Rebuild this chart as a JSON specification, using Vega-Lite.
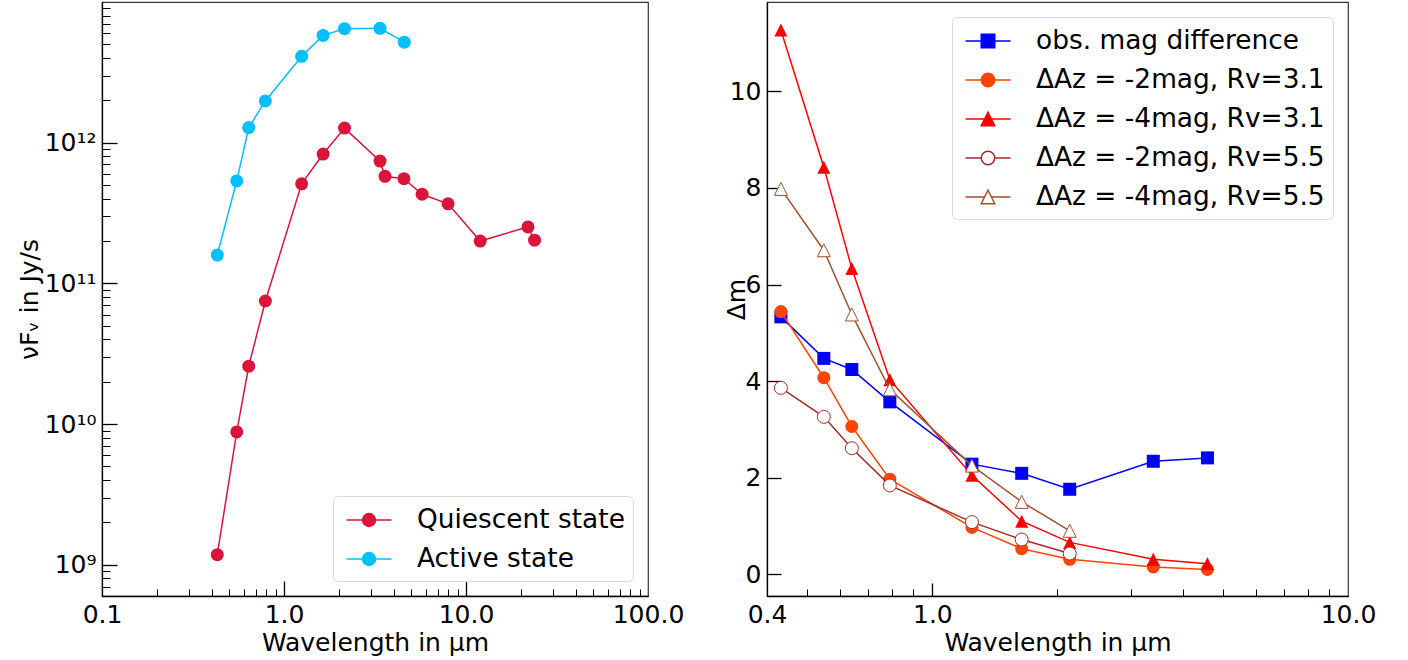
{
  "$schema": "https://vega.github.io/schema/vega-lite/v6.json",
  "padding": {"left": 16, "top": 1, "right": 5, "bottom": 5},
  "spacing": 119,
  "bounds": "flush",
  "resolve": {"scale": {"fill": "independent", "stroke": "independent", "shape": "independent"}, "legend": {"fill": "independent", "stroke": "independent", "shape": "independent"}},
  "config": {
    "font": "DejaVu Sans",
    "view": {"stroke": "#333", "strokeWidth": 1.2},
    "axis": {"grid": false, "labelFontSize": 25, "titleFontSize": 25, "labelColor": "#000", "titleColor": "#000", "titleFontWeight": "normal", "tickColor": "#000", "domainColor": "#000", "domainWidth": 1.3, "labelFont": "DejaVu Sans", "titleFont": "DejaVu Sans", "labelFlush": false, "labelOverlap": false},
    "legend": {"labelFontSize": 26.4, "labelFont": "DejaVu Sans", "labelColor": "#000", "strokeColor": "#d9d9d9", "fillColor": "#ffffff", "cornerRadius": 5, "padding": 8, "rowPadding": 9, "symbolSize": 900, "symbolStrokeWidth": 1.5, "symbolOffset": 12, "labelOffset": 32, "labelLimit": 600, "offset": 15}
  },
  "datasets": {
    "sed": [
      {"lam": 0.43, "flux": 1.18e9, "state": "Quiescent state"},
      {"lam": 0.55, "flux": 8.8e9, "state": "Quiescent state"},
      {"lam": 0.64, "flux": 2.58e10, "state": "Quiescent state"},
      {"lam": 0.79, "flux": 7.5e10, "state": "Quiescent state"},
      {"lam": 1.25, "flux": 5.1e11, "state": "Quiescent state"},
      {"lam": 1.64, "flux": 8.3e11, "state": "Quiescent state"},
      {"lam": 2.15, "flux": 1.27e12, "state": "Quiescent state"},
      {"lam": 3.37, "flux": 7.4e11, "state": "Quiescent state"},
      {"lam": 3.59, "flux": 5.77e11, "state": "Quiescent state"},
      {"lam": 4.56, "flux": 5.55e11, "state": "Quiescent state"},
      {"lam": 5.74, "flux": 4.3e11, "state": "Quiescent state"},
      {"lam": 7.97, "flux": 3.68e11, "state": "Quiescent state"},
      {"lam": 11.97, "flux": 2.0e11, "state": "Quiescent state"},
      {"lam": 21.9, "flux": 2.52e11, "state": "Quiescent state"},
      {"lam": 23.8, "flux": 2.03e11, "state": "Quiescent state"},
      {"lam": 0.43, "flux": 1.59e11, "state": "Active state"},
      {"lam": 0.55, "flux": 5.35e11, "state": "Active state"},
      {"lam": 0.64, "flux": 1.28e12, "state": "Active state"},
      {"lam": 0.79, "flux": 1.98e12, "state": "Active state"},
      {"lam": 1.25, "flux": 4.11e12, "state": "Active state"},
      {"lam": 1.64, "flux": 5.79e12, "state": "Active state"},
      {"lam": 2.15, "flux": 6.46e12, "state": "Active state"},
      {"lam": 3.37, "flux": 6.5e12, "state": "Active state"},
      {"lam": 4.58, "flux": 5.18e12, "state": "Active state"}
    ],
    "dm": [
      {"lam": 0.432, "dm": 5.33, "series": "obs. mag difference"},
      {"lam": 0.548, "dm": 4.47, "series": "obs. mag difference"},
      {"lam": 0.64, "dm": 4.24, "series": "obs. mag difference"},
      {"lam": 0.79, "dm": 3.57, "series": "obs. mag difference"},
      {"lam": 1.245, "dm": 2.28, "series": "obs. mag difference"},
      {"lam": 1.64, "dm": 2.09, "series": "obs. mag difference"},
      {"lam": 2.14, "dm": 1.76, "series": "obs. mag difference"},
      {"lam": 3.4, "dm": 2.34, "series": "obs. mag difference"},
      {"lam": 4.59, "dm": 2.41, "series": "obs. mag difference"},
      {"lam": 0.432, "dm": 5.44, "series": "ΔAz = -2mag, Rv=3.1"},
      {"lam": 0.548, "dm": 4.07, "series": "ΔAz = -2mag, Rv=3.1"},
      {"lam": 0.64, "dm": 3.06, "series": "ΔAz = -2mag, Rv=3.1"},
      {"lam": 0.79, "dm": 1.97, "series": "ΔAz = -2mag, Rv=3.1"},
      {"lam": 1.245, "dm": 0.97, "series": "ΔAz = -2mag, Rv=3.1"},
      {"lam": 1.64, "dm": 0.53, "series": "ΔAz = -2mag, Rv=3.1"},
      {"lam": 2.14, "dm": 0.31, "series": "ΔAz = -2mag, Rv=3.1"},
      {"lam": 3.4, "dm": 0.15, "series": "ΔAz = -2mag, Rv=3.1"},
      {"lam": 4.59, "dm": 0.1, "series": "ΔAz = -2mag, Rv=3.1"},
      {"lam": 0.432, "dm": 11.27, "series": "ΔAz = -4mag, Rv=3.1"},
      {"lam": 0.548, "dm": 8.43, "series": "ΔAz = -4mag, Rv=3.1"},
      {"lam": 0.64, "dm": 6.33, "series": "ΔAz = -4mag, Rv=3.1"},
      {"lam": 0.79, "dm": 4.03, "series": "ΔAz = -4mag, Rv=3.1"},
      {"lam": 1.245, "dm": 2.05, "series": "ΔAz = -4mag, Rv=3.1"},
      {"lam": 1.64, "dm": 1.1, "series": "ΔAz = -4mag, Rv=3.1"},
      {"lam": 2.14, "dm": 0.66, "series": "ΔAz = -4mag, Rv=3.1"},
      {"lam": 3.4, "dm": 0.31, "series": "ΔAz = -4mag, Rv=3.1"},
      {"lam": 4.59, "dm": 0.22, "series": "ΔAz = -4mag, Rv=3.1"},
      {"lam": 0.432, "dm": 3.86, "series": "ΔAz = -2mag, Rv=5.5"},
      {"lam": 0.548, "dm": 3.26, "series": "ΔAz = -2mag, Rv=5.5"},
      {"lam": 0.64, "dm": 2.61, "series": "ΔAz = -2mag, Rv=5.5"},
      {"lam": 0.79, "dm": 1.84, "series": "ΔAz = -2mag, Rv=5.5"},
      {"lam": 1.245, "dm": 1.08, "series": "ΔAz = -2mag, Rv=5.5"},
      {"lam": 1.64, "dm": 0.72, "series": "ΔAz = -2mag, Rv=5.5"},
      {"lam": 2.14, "dm": 0.43, "series": "ΔAz = -2mag, Rv=5.5"},
      {"lam": 0.432, "dm": 7.98, "series": "ΔAz = -4mag, Rv=5.5"},
      {"lam": 0.548, "dm": 6.71, "series": "ΔAz = -4mag, Rv=5.5"},
      {"lam": 0.64, "dm": 5.38, "series": "ΔAz = -4mag, Rv=5.5"},
      {"lam": 0.79, "dm": 3.83, "series": "ΔAz = -4mag, Rv=5.5"},
      {"lam": 1.245, "dm": 2.25, "series": "ΔAz = -4mag, Rv=5.5"},
      {"lam": 1.64, "dm": 1.5, "series": "ΔAz = -4mag, Rv=5.5"},
      {"lam": 2.14, "dm": 0.9, "series": "ΔAz = -4mag, Rv=5.5"}
    ]
  },
  "hconcat": [
    {
      "width": 546,
      "height": 594,
      "data": {"name": "sed"},
      "layer": [
        {
          "transform": [{"filter": "datum.state === 'Quiescent state'"}],
          "mark": {"type": "line", "color": "#dc143c", "strokeWidth": 1.5, "point": {"filled": true, "size": 169, "color": "#dc143c", "opacity": 1}},
          "encoding": {
            "x": {"field": "lam", "type": "quantitative", "scale": {"type": "log", "domain": [0.1, 100], "nice": false},
                  "axis": {"orient": "bottom", "values": [0.1, 1, 10, 100], "format": ".1f", "ticks": false, "domain": true, "labelPadding": 6, "title": "Wavelength in μm", "titlePadding": 3}},
            "y": {"field": "flux", "type": "quantitative", "scale": {"type": "log", "domain": [6e8, 1e13], "nice": false},
                  "axis": {"orient": "left", "values": [1e9, 1e10, 1e11, 1e12], "labelExpr": "datum.value < 5e9 ? '10⁹' : datum.value < 5e10 ? '10¹⁰' : datum.value < 5e11 ? '10¹¹' : '10¹²'", "ticks": false, "domain": true, "labelPadding": 6, "title": "νFᵥ in Jy/s", "titlePadding": 2}}
          }
        },
        {
          "transform": [{"filter": "datum.state === 'Active state'"}],
          "mark": {"type": "line", "color": "#00bfff", "strokeWidth": 1.5, "point": {"filled": true, "size": 169, "color": "#00bfff", "opacity": 1}},
          "encoding": {
            "x": {"field": "lam", "type": "quantitative", "scale": {"type": "log", "domain": [0.1, 100], "nice": false},
                  "axis": {"orient": "bottom", "values": [1, 10], "labels": false, "domain": false, "ticks": true, "tickSize": -15, "tickWidth": 1.3, "title": null}},
            "y": {"field": "flux", "type": "quantitative", "scale": {"type": "log", "domain": [6e8, 1e13], "nice": false},
                  "axis": {"orient": "left", "values": [1e9, 1e10, 1e11, 1e12], "labels": false, "domain": false, "ticks": true, "tickSize": -15, "tickWidth": 1.3, "title": null}}
          }
        },
        {
          "transform": [{"filter": "false"}],
          "mark": {"type": "point", "size": 900, "opacity": 1, "strokeWidth": 1.5},
          "encoding": {
            "x": {"field": "lam", "type": "quantitative", "scale": {"type": "log", "domain": [0.1, 100], "nice": false},
                  "axis": {"orient": "bottom", "values": [0.2, 0.3, 0.4, 0.5, 0.6, 0.7, 0.8, 0.9, 2, 3, 4, 5, 6, 7, 8, 9, 20, 30, 40, 50, 60, 70, 80, 90], "labels": false, "domain": false, "ticks": true, "tickSize": -7, "tickWidth": 1, "title": null}},
            "y": {"field": "flux", "type": "quantitative", "scale": {"type": "log", "domain": [6e8, 1e13], "nice": false},
                  "axis": {"orient": "left", "values": [6e8, 7e8, 8e8, 9e8, 2e9, 3e9, 4e9, 5e9, 6e9, 7e9, 8e9, 9e9, 2e10, 3e10, 4e10, 5e10, 6e10, 7e10, 8e10, 9e10, 2e11, 3e11, 4e11, 5e11, 6e11, 7e11, 8e11, 9e11, 2e12, 3e12, 4e12, 5e12, 6e12, 7e12, 8e12, 9e12], "labels": false, "domain": false, "ticks": true, "tickSize": -8, "tickWidth": 1, "title": null}},
            "fill": {"field": "state", "type": "nominal", "scale": {"domain": ["Quiescent state", "Active state"], "range": ["#dc143c", "#00bfff"]}, "legend": {"title": null, "orient": "bottom-right"}},
            "stroke": {"field": "state", "type": "nominal", "scale": {"domain": ["Quiescent state", "Active state"], "range": ["#dc143c", "#00bfff"]}, "legend": {"title": null, "orient": "bottom-right"}},
            "shape": {"field": "state", "type": "nominal", "scale": {"domain": ["Quiescent state", "Active state"], "range": ["M-1.5,0H-0.43M0.43,0H1.5M0.43,0A0.43,0.43,0,1,1,-0.43,0A0.43,0.43,0,1,1,0.43,0Z", "M-1.5,0H-0.43M0.43,0H1.5M0.43,0A0.43,0.43,0,1,1,-0.43,0A0.43,0.43,0,1,1,0.43,0Z"]}, "legend": {"title": null, "orient": "bottom-right"}}
          }
        }
      ],
      "resolve": {"axis": {"x": "independent", "y": "independent"}}
    },
    {
      "width": 581,
      "height": 594,
      "data": {"name": "dm"},
      "layer": [
        {
          "transform": [{"filter": "datum.series === 'obs. mag difference'"}],
          "mark": {"type": "line", "color": "#0000ff", "strokeWidth": 1.5, "point": {"filled": true, "shape": "square", "size": 169, "color": "#0000ff", "opacity": 1}},
          "encoding": {
            "x": {"field": "lam", "type": "quantitative", "scale": {"type": "log", "domain": [0.4, 10], "nice": false},
                  "axis": {"orient": "bottom", "values": [0.4, 1, 10], "format": ".1f", "ticks": false, "domain": true, "labelPadding": 6, "title": "Wavelength in μm", "titlePadding": 3}},
            "y": {"field": "dm", "type": "quantitative", "scale": {"domain": [-0.45, 11.85], "nice": false, "zero": false},
                  "axis": {"orient": "left", "values": [0, 2, 4, 6, 8, 10], "format": "d", "ticks": false, "domain": true, "labelPadding": 6, "title": "Δm", "titlePadding": -20}}
          }
        },
        {
          "transform": [{"filter": "datum.series === 'ΔAz = -2mag, Rv=3.1'"}],
          "mark": {"type": "line", "color": "#ff4500", "strokeWidth": 1.5, "point": {"filled": true, "shape": "circle", "size": 169, "color": "#ff4500", "opacity": 1}},
          "encoding": {
            "x": {"field": "lam", "type": "quantitative", "scale": {"type": "log", "domain": [0.4, 10], "nice": false},
                  "axis": {"orient": "bottom", "values": [1], "labels": false, "domain": false, "ticks": true, "tickSize": -13, "tickWidth": 1.3, "title": null}},
            "y": {"field": "dm", "type": "quantitative", "scale": {"domain": [-0.45, 11.85], "nice": false, "zero": false},
                  "axis": {"orient": "left", "values": [0, 2, 4, 6, 8, 10], "labels": false, "domain": false, "ticks": true, "tickSize": -14, "tickWidth": 1.3, "title": null}}
          }
        },
        {
          "transform": [{"filter": "datum.series === 'ΔAz = -4mag, Rv=3.1'"}],
          "mark": {"type": "line", "color": "#ff0000", "strokeWidth": 1.5, "point": {"filled": true, "shape": "M0,-1L1,1L-1,1Z", "size": 169, "color": "#ff0000", "opacity": 1}},
          "encoding": {
            "x": {"field": "lam", "type": "quantitative", "scale": {"type": "log", "domain": [0.4, 10], "nice": false},
                  "axis": {"orient": "bottom", "values": [0.5, 0.6, 0.7, 0.8, 0.9, 2, 3, 4, 5, 6, 7, 8, 9], "labels": false, "domain": false, "ticks": true, "tickSize": -7, "tickWidth": 1, "title": null}},
            "y": {"field": "dm", "type": "quantitative", "scale": {"domain": [-0.45, 11.85], "nice": false, "zero": false}, "axis": null}
          }
        },
        {
          "transform": [{"filter": "datum.series === 'ΔAz = -2mag, Rv=5.5'"}],
          "mark": {"type": "line", "color": "#a52a2a", "strokeWidth": 1.5, "point": {"filled": false, "shape": "circle", "size": 169, "fill": "#ffffff", "stroke": "#a52a2a", "strokeWidth": 1, "opacity": 1}},
          "encoding": {
            "x": {"field": "lam", "type": "quantitative", "scale": {"type": "log", "domain": [0.4, 10], "nice": false}, "axis": null},
            "y": {"field": "dm", "type": "quantitative", "scale": {"domain": [-0.45, 11.85], "nice": false, "zero": false}, "axis": null}
          }
        },
        {
          "transform": [{"filter": "datum.series === 'ΔAz = -4mag, Rv=5.5'"}],
          "mark": {"type": "line", "color": "#a0522d", "strokeWidth": 1.5, "point": {"filled": false, "shape": "M0,-1L1,1L-1,1Z", "size": 169, "fill": "#ffffff", "stroke": "#a0522d", "strokeWidth": 1, "opacity": 1}},
          "encoding": {
            "x": {"field": "lam", "type": "quantitative", "scale": {"type": "log", "domain": [0.4, 10], "nice": false}, "axis": null},
            "y": {"field": "dm", "type": "quantitative", "scale": {"domain": [-0.45, 11.85], "nice": false, "zero": false}, "axis": null}
          }
        },
        {
          "transform": [{"filter": "false"}],
          "mark": {"type": "point", "size": 900, "opacity": 1, "strokeWidth": 1.5},
          "encoding": {
            "x": {"field": "lam", "type": "quantitative", "scale": {"type": "log", "domain": [0.4, 10], "nice": false}, "axis": null},
            "y": {"field": "dm", "type": "quantitative", "scale": {"domain": [-0.45, 11.85], "nice": false, "zero": false}, "axis": null},
            "fill": {"field": "series", "type": "nominal", "scale": {"domain": ["obs. mag difference", "ΔAz = -2mag, Rv=3.1", "ΔAz = -4mag, Rv=3.1", "ΔAz = -2mag, Rv=5.5", "ΔAz = -4mag, Rv=5.5"], "range": ["#0000ff", "#ff4500", "#ff0000", "#ffffff", "#ffffff"]}, "legend": {"title": null, "orient": "top-right"}},
            "stroke": {"field": "series", "type": "nominal", "scale": {"domain": ["obs. mag difference", "ΔAz = -2mag, Rv=3.1", "ΔAz = -4mag, Rv=3.1", "ΔAz = -2mag, Rv=5.5", "ΔAz = -4mag, Rv=5.5"], "range": ["#0000ff", "#ff4500", "#ff0000", "#a52a2a", "#a0522d"]}, "legend": {"title": null, "orient": "top-right"}},
            "shape": {"field": "series", "type": "nominal", "scale": {"domain": ["obs. mag difference", "ΔAz = -2mag, Rv=3.1", "ΔAz = -4mag, Rv=3.1", "ΔAz = -2mag, Rv=5.5", "ΔAz = -4mag, Rv=5.5"], "range": [
              "M-1.5,0H-0.45M0.45,0H1.5M-0.45,-0.45H0.45V0.45H-0.45Z",
              "M-1.5,0H-0.45M0.45,0H1.5M0.45,0A0.45,0.45,0,1,1,-0.45,0A0.45,0.45,0,1,1,0.45,0Z",
              "M-1.5,0H-0.23M0.23,0H1.5M0,-0.45L0.45,0.45H-0.45Z",
              "M-1.5,0H-0.45M0.45,0H1.5M0.45,0A0.45,0.45,0,1,1,-0.45,0A0.45,0.45,0,1,1,0.45,0Z",
              "M-1.5,0H-0.23M0.23,0H1.5M0,-0.45L0.45,0.45H-0.45Z"]}, "legend": {"title": null, "orient": "top-right"}}
          }
        }
      ],
      "resolve": {"axis": {"x": "independent", "y": "independent"}}
    }
  ]
}
